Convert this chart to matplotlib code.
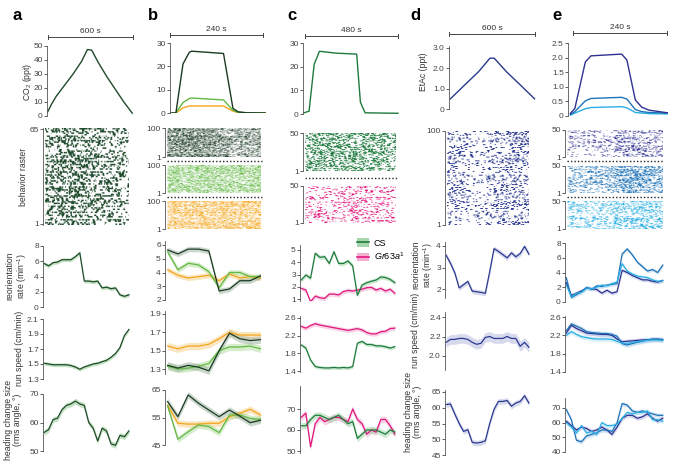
import numpy as np
import matplotlib
matplotlib.use("Agg")
import matplotlib.pyplot as plt
from matplotlib.lines import Line2D
from matplotlib.patches import Patch
from matplotlib.colors import LinearSegmentedColormap

plt.rcParams['font.family'] = ['Liberation Sans', 'DejaVu Sans']
plt.rcParams['mathtext.fontset'] = 'custom'
plt.rcParams['mathtext.rm'] = 'Liberation Sans'
plt.rcParams['mathtext.it'] = 'Liberation Sans:italic'

# ---------------- colours ----------------
A_COL = '#1f4a2c'
B_DARK, B_LIGHT, B_ORANGE = '#1b3a24', '#62b843', '#f4a51c'
C_CS, C_GR = '#1e7a3e', '#e0177d'
D_COL = '#2b3990'
E_NAVY, E_MED, E_CYAN = '#2e3192', '#1f73b7', '#2aaee3'

# ---------------- stimulus data ----------------
a_stim_t = [0, 30, 60, 120, 180, 240, 282, 312, 360, 420, 480, 540, 600]
a_stim_v = [3, 9, 14, 22, 30, 39, 47.5, 47, 38, 28, 19, 10, 2]

b_stim_t = [0, 13, 31, 47, 53, 134, 158, 171, 192, 240]
b_dark_v = [0, 0, 21, 26, 26.5, 25.5, 2, 0.5, 0.1, 0]
b_light_v = [0, 0, 4.5, 6.2, 6.4, 5.6, 1.2, 0.3, 0.1, 0]
b_orange_v = [0, 0, 2.2, 3.0, 3.0, 3.0, 0.8, 0.2, 0.1, 0]

c_stim_t = [0, 26, 52, 79, 166, 269, 288, 312, 480]
c_stim_v = [0.5, 1.2, 21, 26.5, 25.7, 25.3, 5, 0.5, 0.3]

d_stim_t = [0, 100, 200, 282, 312, 400, 500, 600]
d_stim_v = [0.5, 1.17, 1.83, 2.5, 2.5, 1.83, 1.17, 0.5]

e_stim_t = [0, 11, 37, 51, 127, 140, 161, 177, 195, 240]
e_navy_v = [0.09, 0.26, 1.85, 2.06, 2.12, 1.92, 0.55, 0.3, 0.2, 0.11]
e_med_v = [0.05, 0.15, 0.52, 0.6, 0.64, 0.58, 0.22, 0.15, 0.12, 0.1]
e_cyan_v = [0.03, 0.1, 0.25, 0.29, 0.32, 0.28, 0.12, 0.1, 0.08, 0.07]

# ---------------- behaviour data ----------------
a_reo = [5.7, 5.4, 5.8, 5.9, 6.2, 6.2, 6.2, 6.6, 7.1, 3.4, 3.4, 3.3, 3.4, 2.5, 2.6, 2.4, 2.5, 1.6, 1.4, 1.6]
a_run = [1.51, 1.50, 1.49, 1.49, 1.49, 1.49, 1.48, 1.46, 1.43, 1.46, 1.48, 1.50, 1.51, 1.53, 1.55, 1.59, 1.64, 1.72, 1.88, 1.96]
a_head = [56.5, 57.5, 61, 61.5, 64.5, 66, 66.5, 67.5, 66.5, 66, 60, 58, 53.5, 58, 57, 52.5, 52, 55.5, 55, 57]

b_reo_dark = [5.64, 5.35, 5.7, 5.7, 5.56, 2.65, 2.8, 3.4, 3.4, 3.75]
b_reo_light = [5.5, 4.2, 4.67, 4.55, 4.06, 2.9, 4.0, 4.0, 3.7, 3.7]
b_reo_orange = [4.2, 3.8, 3.6, 3.7, 3.8, 3.4, 3.9, 3.6, 3.7, 3.6]
b_run_dark = [1.34, 1.31, 1.34, 1.32, 1.28, 1.50, 1.69, 1.63, 1.61, 1.62]
b_run_light = [1.33, 1.30, 1.31, 1.33, 1.36, 1.50, 1.54, 1.54, 1.55, 1.52]
b_run_orange = [1.55, 1.52, 1.55, 1.55, 1.57, 1.63, 1.70, 1.67, 1.67, 1.67]
b_head_dark = [60.8, 55.3, 63.2, 60.2, 57.7, 55.3, 57.7, 55.5, 53.1, 54.0]
b_head_light = [59.2, 47.1, 49.8, 52.3, 51.7, 49.5, 55.9, 55.9, 54.7, 54.3]
b_head_orange = [59.5, 52.9, 52.6, 52.6, 52.9, 52.9, 55.3, 56.5, 58.0, 55.9]

c_reo_cs = [2.55, 2.96, 2.7, 4.73, 4.4, 4.46, 3.9, 4.86, 3.9, 3.9, 4.1, 3.7, 1.3, 2.14, 2.33, 2.45, 2.55, 2.8, 2.75, 2.6, 2.33]
c_reo_gr = [1.87, 1.73, 0.78, 1.24, 1.1, 1.05, 1.4, 1.4, 1.33, 1.6, 1.7, 1.65, 1.73, 1.8, 1.92, 1.95, 1.73, 1.87, 1.65, 1.8, 1.46]
c_run_cs = [1.99, 1.92, 1.65, 1.50, 1.48, 1.47, 1.47, 1.48, 1.47, 1.48, 1.47, 1.50, 2.03, 2.07, 2.00, 2.00, 1.97, 1.97, 1.95, 1.92, 1.95]
c_run_gr = [2.41, 2.37, 2.43, 2.47, 2.44, 2.42, 2.40, 2.38, 2.36, 2.34, 2.32, 2.34, 2.36, 2.33, 2.27, 2.24, 2.24, 2.29, 2.30, 2.36, 2.37]
c_head_cs = [62, 62, 65, 67, 67, 66, 65, 66, 67, 65, 63, 64, 56, 58, 60, 60, 60, 59, 58, 60, 59]
c_head_gr = [66, 68, 52, 63, 66, 64, 65, 66, 66, 65, 64, 70, 65, 63, 58, 60, 59, 65, 65, 62, 58]

d_reo = [3.57, 3.2, 2.75, 2.05, 2.2, 2.35, 1.9, 1.87, 1.84, 1.8, 2.8, 3.88, 3.75, 3.6, 3.45, 3.68, 3.5, 3.65, 3.98, 3.62]
d_run = [2.14, 2.17, 2.17, 2.18, 2.18, 2.17, 2.14, 2.12, 2.13, 2.19, 2.20, 2.18, 2.18, 2.18, 2.20, 2.18, 2.18, 2.10, 2.14, 2.09]
d_head = [61, 61.2, 58, 55, 52.5, 53, 49, 48.8, 49, 49.5, 55, 59.5, 62, 62, 62.3, 60.5, 61.5, 62, 63.8, 61.5]

e_reo_navy = [2.6, 0.9, 1.2, 1.5, 1.9, 1.8, 1.7, 1.2, 1.6, 1.2, 1.4, 4.3, 4.0, 3.6, 3.3, 3.0, 3.0, 2.8, 2.7, 2.9]
e_reo_med = [3.3, 0.6, 1.0, 1.4, 2.0, 1.7, 2.2, 2.1, 2.3, 2.4, 2.5, 6.5, 7.2, 6.4, 5.4, 4.8, 4.2, 4.4, 4.0, 5.0]
e_reo_cyan = [2.3, 0.7, 1.2, 1.3, 1.9, 1.8, 2.0, 2.3, 2.2, 2.5, 2.7, 5.2, 4.2, 3.8, 3.5, 3.4, 3.3, 3.0, 2.8, 2.9]
e_run_navy = [2.25, 2.42, 2.35, 2.30, 2.25, 2.24, 2.23, 2.22, 2.22, 2.20, 2.12, 2.06, 2.07, 2.08, 2.09, 2.10, 2.10, 2.11, 2.11, 2.10]
e_run_med = [2.30, 2.45, 2.40, 2.35, 2.28, 2.26, 2.25, 2.24, 2.24, 2.22, 2.18, 2.02, 1.99, 2.02, 2.05, 2.07, 2.10, 2.12, 2.12, 2.11]
e_run_cyan = [2.20, 2.28, 2.22, 2.17, 2.15, 2.13, 2.12, 2.12, 2.12, 2.11, 2.07, 2.03, 2.02, 2.05, 2.06, 2.08, 2.09, 2.10, 2.10, 2.09]
e_head_navy = [61, 58, 55, 57, 56, 54, 55, 57, 55, 52, 57, 63, 65, 65, 63, 64, 66, 63, 61, 63]
e_head_med = [69, 62, 48, 47, 51, 52, 53, 55, 55, 54, 60, 73, 72, 68, 67, 68, 67, 66, 65, 65]
e_head_cyan = [60, 57, 53, 58, 53, 54, 52, 60, 58, 58, 59, 63, 67, 66, 67, 67, 68, 62, 62, 61]

# raster activity profiles (fraction of active bins over 10 time segments)
ras_a = [0.5, 0.55, 0.55, 0.55, 0.5, 0.45, 0.35, 0.3, 0.3, 0.25]
ras_b_dark = [0.55, 0.6, 0.6, 0.6, 0.55, 0.45, 0.35, 0.35, 0.35, 0.35]
ras_b_light = [0.55, 0.5, 0.5, 0.5, 0.5, 0.5, 0.5, 0.5, 0.5, 0.5]
ras_b_orange = [0.5, 0.5, 0.5, 0.5, 0.5, 0.5, 0.5, 0.5, 0.5, 0.5]
ras_c_cs = [0.45, 0.55, 0.55, 0.55, 0.55, 0.5, 0.45, 0.45, 0.45, 0.45]
ras_c_gr = [0.18, 0.18, 0.18, 0.22, 0.22, 0.28, 0.28, 0.22, 0.22, 0.22]
ras_d = [0.25, 0.2, 0.14, 0.1, 0.1, 0.18, 0.25, 0.25, 0.25, 0.25]
ras_e_navy = [0.15, 0.12, 0.12, 0.15, 0.15, 0.3, 0.35, 0.25, 0.25, 0.25]
ras_e_med = [0.3, 0.25, 0.25, 0.3, 0.3, 0.6, 0.65, 0.45, 0.4, 0.4]
ras_e_cyan = [0.25, 0.2, 0.2, 0.25, 0.25, 0.4, 0.4, 0.35, 0.35, 0.35]

# ---------------- figure ----------------
W, H = 675, 467
fig = plt.figure(figsize=(W / 100, H / 100), dpi=100)
TICK_COL = '#444444'
SPINE_COL = '#555555'


def style(ax):
    for s in ['top', 'right', 'bottom']:
        ax.spines[s].set_visible(False)
    ax.spines['left'].set_color(SPINE_COL)
    ax.spines['left'].set_linewidth(0.6)
    ax.set_xticks([])
    ax.tick_params(axis='y', labelsize=6, colors=TICK_COL, length=2, width=0.6, pad=1)
    ax.patch.set_alpha(0)


def add_ax(x0, x1, va, ya, vb, yb, lo, hi):
    k = (yb - ya) / (va - vb)
    y_lo = ya + (va - lo) * k
    y_hi = ya + (va - hi) * k
    ax = fig.add_axes([x0 / W, 1 - y_lo / H, (x1 - x0) / W, (y_lo - y_hi) / H])
    ax.set_ylim(lo, hi)
    style(ax)
    return ax


def ftext(x, y, s, **kw):
    fig.text(x / W, 1 - y / H, s, **kw)


def scalebar(x0, x1, y, label):
    fig.add_artist(Line2D([x0 / W, x1 / W], [1 - y / H] * 2, color='#444', lw=0.7))
    for xx in (x0, x1):
        fig.add_artist(Line2D([xx / W] * 2, [1 - (y - 2) / H, 1 - (y + 2) / H], color='#444', lw=0.7))
    ftext((x0 + x1) / 2, y - 2, label, ha='center', va='bottom', fontsize=6, color='#333')


def trace(ax, ys, col, band, err):
    x = np.arange(len(ys))
    y = np.asarray(ys, float)
    ax.fill_between(x, y - err, y + err, color=band, alpha=0.45, lw=0)
    ax.plot(x, y, color=col, lw=0.9)
    ax.set_xlim(-0.25, len(ys) - 0.75)


def raster(ax, n, prof, col, seed):
    # texture of the behaviour raster; density follows the profile
    rng = np.random.default_rng(seed)
    T = 260
    dens = np.interp(np.linspace(0, 1, T), np.linspace(0, 1, len(prof)), prof)
    img = np.zeros((n, T))
    for r in range(n):
        f = rng.uniform(0.3, 1.7)
        t = 0
        while t < T:
            p = min(dens[t] * f, 0.95) / 4.0
            if rng.random() < p:
                L = rng.integers(1, 10)
                img[r, t:t + L] = rng.uniform(0.85, 1.0)
                t += L
            else:
                t += 1
    cmap = LinearSegmentedColormap.from_list('r', ['white', col])
    ax.imshow(img, aspect='auto', cmap=cmap, vmin=0, vmax=0.9, interpolation='antialiased',
              extent=(0.02, 0.98, 0.5, n + 0.5), origin='lower')
    ax.set_xlim(0, 1)
    ax.set_ylim(0.5, n + 0.5)
    ax.set_yticks([1, n])


def dotted(x0, x1, y):
    fig.add_artist(Line2D([x0 / W, x1 / W], [1 - y / H] * 2, color='#222', lw=1.0, ls=(0, (1, 1.5))))


# panel letters
for lx, lt in [(17, 'a'), (153, 'b'), (292, 'c'), (415, 'd'), (557, 'e')]:
    ftext(lx, 15, lt, fontsize=12, fontweight='bold', ha='center', va='center')

lab = dict(rotation=90, ha='center', va='center', fontsize=6.2, color='#333', linespacing=1.1)

# ---------- panel a ----------
ax = add_ax(47, 133, 50, 46, 0, 116, 0, 50)
ax.plot(a_stim_t, a_stim_v, color=A_COL, lw=1.0)
ax.set_xlim(-5, 605)
ax.set_yticks([0, 10, 20, 30, 40, 50])
scalebar(48, 133, 37, '600 s')
ax = add_ax(43, 130, 65, 129, 1, 224, 0.5, 65.5)
raster(ax, 65, ras_a, A_COL, 1)
ax = add_ax(43, 130, 8, 246, 0, 307, 0, 8)
trace(ax, a_reo, A_COL, '#7fbf7a', 0.25)
ax.set_yticks([0, 2, 4, 6, 8])
ax = add_ax(43, 130, 2.1, 319, 1.3, 379, 1.3, 2.1)
trace(ax, a_run, A_COL, '#7fbf7a', 0.025)
ax.set_yticks([1.3, 1.5, 1.7, 1.9, 2.1])
ax = add_ax(43, 130, 70, 394, 50, 451, 50, 70)
trace(ax, a_head, A_COL, '#7fbf7a', 1.0)
ax.set_yticks([50, 60, 70])

ftext(27, 82, 'CO$_2$ (ppt)', **lab)
ftext(24, 177, 'behavior raster', **lab)
ftext(17, 276, 'reorientation\nrate (min$^{-1}$)', **lab)
ftext(20, 348, 'run speed (cm/min)', **lab)
ftext(13, 420, 'heading change size\n(rms angle, °)', **lab)

# ---------- panel b ----------
ax = add_ax(170, 266, 30, 43, 0, 113, 0, 30)
ax.plot(b_stim_t, b_orange_v, color=B_ORANGE, lw=1.0)
ax.plot(b_stim_t, b_light_v, color=B_LIGHT, lw=1.0)
ax.plot(b_stim_t, b_dark_v, color=B_DARK, lw=1.0)
ax.set_xlim(-2, 242)
ax.set_yticks([0, 10, 20, 30])
scalebar(170, 263, 35, '240 s')
for (top, bot, prof, col, sd) in [(128, 157, ras_b_dark, B_DARK, 2), (165, 193, ras_b_light, B_LIGHT, 3),
                                   (201, 229, ras_b_orange, B_ORANGE, 4)]:
    ax = add_ax(165, 262, 100, top, 1, bot, 0.5, 100.5)
    raster(ax, 100, prof, col, sd)
dotted(167, 262, 161)
dotted(167, 262, 197)
ax = add_ax(165, 263, 6, 245, 2, 300, 2, 6.3)
trace(ax, b_reo_orange, B_ORANGE, '#f7c978', 0.2)
trace(ax, b_reo_light, B_LIGHT, '#a6d98e', 0.2)
trace(ax, b_reo_dark, B_DARK, '#8fa894', 0.2)
ax.set_yticks([2, 3, 4, 5, 6])
ax = add_ax(165, 263, 1.9, 314, 1.3, 369, 1.25, 1.93)
trace(ax, b_run_orange, B_ORANGE, '#f7c978', 0.04)
trace(ax, b_run_light, B_LIGHT, '#a6d98e', 0.04)
trace(ax, b_run_dark, B_DARK, '#8fa894', 0.04)
ax.set_yticks([1.3, 1.5, 1.7, 1.9])
ax = add_ax(165, 263, 65, 390, 45, 445, 45, 65)
trace(ax, b_head_orange, B_ORANGE, '#f7c978', 1.2)
trace(ax, b_head_light, B_LIGHT, '#a6d98e', 1.2)
trace(ax, b_head_dark, B_DARK, '#8fa894', 1.2)
ax.set_yticks([45, 55, 65])

# ---------- panel c ----------
ax = add_ax(303, 399, 30, 43, 0, 114, 0, 30)
ax.plot(c_stim_t, c_stim_v, color=C_CS, lw=1.0)
ax.set_xlim(-5, 485)
ax.set_yticks([0, 10, 20, 30])
scalebar(305, 398, 36, '480 s')
ax = add_ax(303, 397, 50, 133, 1, 171, 0.5, 50.5)
raster(ax, 50, ras_c_cs, C_CS, 5)
ax = add_ax(303, 397, 50, 186, 1, 223, 0.5, 50.5)
raster(ax, 50, ras_c_gr, C_GR, 6)
dotted(305, 397, 178)
ax = add_ax(300, 396, 5, 250, 1, 299, 0.8, 5.4)
trace(ax, c_reo_gr, C_GR, '#f09ac5', 0.18)
trace(ax, c_reo_cs, C_CS, '#8fcc98', 0.18)
ax.set_yticks([1, 2, 3, 4, 5])
ax = add_ax(300, 396, 2.6, 318, 1.4, 371, 1.37, 2.65)
trace(ax, c_run_gr, C_GR, '#f09ac5', 0.05)
trace(ax, c_run_cs, C_CS, '#8fcc98', 0.04)
ax.set_yticks([1.4, 1.8, 2.2, 2.6])
ax = add_ax(300, 396, 70, 409, 50, 451, 49, 81)
trace(ax, c_head_gr, C_GR, '#f09ac5', 1.6)
trace(ax, c_head_cs, C_CS, '#8fcc98', 1.6)
ax.set_yticks([50, 60, 70])
handles = [(Patch(facecolor='#8fcc98', alpha=0.8, lw=0), Line2D([], [], color=C_CS, lw=1.2)),
           (Patch(facecolor='#f09ac5', alpha=0.8, lw=0), Line2D([], [], color=C_GR, lw=1.2))]
fig.legend(handles, ['CS', r'$\it{Gr63a}^{1}$'], loc='upper left',
           bbox_to_anchor=(352 / W, 1 - 233 / H), frameon=False, fontsize=6.5,
           handlelength=1.3, handleheight=1.1, borderpad=0.1, labelspacing=0.3, handletextpad=0.5)

# ---------- panel d ----------
ax = add_ax(449, 536, 3.0, 48, 0, 109, 0, 3.1)
ax.plot(d_stim_t, d_stim_v, color=D_COL, lw=1.0)
ax.set_xlim(-10, 610)
ax.set_yticks([0, 1, 2, 3])
ax.set_yticklabels(['0', '1.0', '2.0', '3.0'])
scalebar(449, 535, 34, '600 s')
ax = add_ax(445, 530, 100, 131, 1, 225, 0.5, 100.5)
raster(ax, 100, ras_d, D_COL, 7)
ax = add_ax(445, 530, 4, 246, 2, 289, 1.6, 4.2)
trace(ax, d_reo, D_COL, '#a8acd8', 0.12)
ax.set_yticks([2, 3, 4])
ax = add_ax(445, 530, 2.4, 317, 2.0, 356, 1.86, 2.45)
trace(ax, d_run, D_COL, '#a8acd8', 0.05)
ax.set_yticks([2.0, 2.2, 2.4])
ax = add_ax(445, 530, 65, 392, 45, 455, 45, 65.5)
trace(ax, d_head, D_COL, '#a8acd8', 0.9)
ax.set_yticks([45, 50, 55, 60, 65])
ftext(424, 72, 'EtAc (ppt)', **lab)
ftext(423, 265, 'reorientation\nrate (min$^{-1}$)', **lab)
ftext(415, 330, 'run speed (cm/min)', **lab)
ftext(413, 412, 'heading change size\n(rms angle, °)', **lab)

# ---------- panel e ----------
ax = add_ax(568, 668, 2.5, 43, 0, 116, 0, 2.5)
ax.plot(e_stim_t, e_cyan_v, color=E_CYAN, lw=1.0)
ax.plot(e_stim_t, e_med_v, color=E_MED, lw=1.0)
ax.plot(e_stim_t, e_navy_v, color=E_NAVY, lw=1.0)
ax.set_xlim(-6, 242)
ax.set_yticks([0, 0.5, 1.0, 1.5, 2.0, 2.5])
ax.set_yticklabels(['0', '0.5', '1.0', '1.5', '2.0', '2.5'])
scalebar(573, 667, 33, '240 s')
for (top, bot, prof, col, sd) in [(130, 157, ras_e_navy, E_NAVY, 8), (166, 193, ras_e_med, E_MED, 9),
                                   (201, 229, ras_e_cyan, E_CYAN, 10)]:
    ax = add_ax(565, 664, 50, top, 1, bot, 0.5, 50.5)
    raster(ax, 50, prof, col, sd)
dotted(567, 664, 161)
dotted(567, 664, 197)
ax = add_ax(565, 664, 8, 243, 0, 302, 0, 8)
trace(ax, e_reo_navy, E_NAVY, '#a8acd8', 0.25)
trace(ax, e_reo_med, E_MED, '#9cc3e6', 0.25)
trace(ax, e_reo_cyan, E_CYAN, '#a5dcf2', 0.25)
ax.set_yticks([0, 2, 4, 6, 8])
ax = add_ax(565, 664, 2.6, 317, 1.4, 372, 1.4, 2.62)
trace(ax, e_run_navy, E_NAVY, '#a8acd8', 0.05)
trace(ax, e_run_med, E_MED, '#9cc3e6', 0.05)
trace(ax, e_run_cyan, E_CYAN, '#a5dcf2', 0.05)
ax.set_yticks([1.4, 1.8, 2.2, 2.6])
ax = add_ax(565, 664, 70, 408, 40, 452, 40, 77)
trace(ax, e_head_navy, E_NAVY, '#a8acd8', 1.5)
trace(ax, e_head_med, E_MED, '#9cc3e6', 1.5)
trace(ax, e_head_cyan, E_CYAN, '#a5dcf2', 1.5)
ax.set_yticks([40, 50, 60, 70])

fig.savefig('out.png', dpi=100)
